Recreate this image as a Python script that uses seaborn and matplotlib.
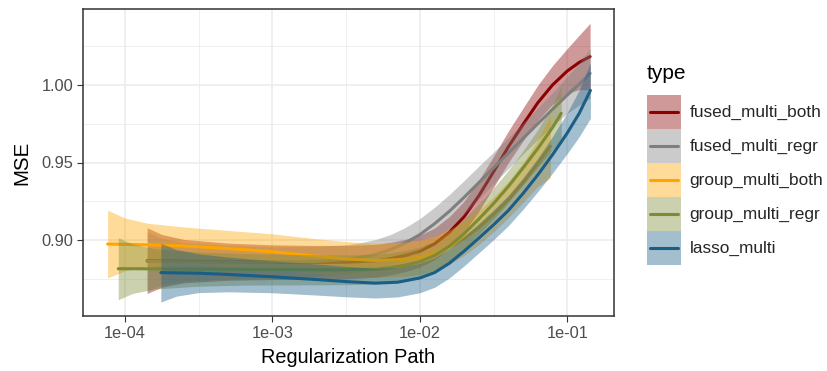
import numpy as np
import pandas as pd
import matplotlib
matplotlib.use("Agg")
import matplotlib.pyplot as plt
import seaborn as sns
from matplotlib.ticker import FixedLocator, NullFormatter
from matplotlib.legend_handler import HandlerBase
from matplotlib.patches import Rectangle
from matplotlib.lines import Line2D

# ---------------- data ----------------
types = ["fused_multi_both", "fused_multi_regr", "group_multi_both",
         "group_multi_regr", "lasso_multi"]

x_ticks = [1e-4, 1e-3, 1e-2, 1e-1]
x_tick_labels = ["1e-04", "1e-03", "1e-02", "1e-01"]
y_ticks = [0.90, 0.95, 1.00]
y_tick_labels = ["0.90", "0.95", "1.00"]

# log10 of the regularization parameter, smoothed MSE, and CI half-width
log_fmb = [-3.849, -3.75, -3.6, -3.3, -3.0, -2.7, -2.5, -2.3, -2.2, -2.1, -2.0, -1.9,
           -1.8, -1.7, -1.6, -1.5, -1.4, -1.3, -1.2, -1.1, -1.0, -0.92, -0.845]
mse_fmb = [0.8867, 0.8866, 0.8864, 0.8860, 0.8857, 0.8855, 0.8857, 0.8866, 0.8880, 0.8900,
           0.8928, 0.8975, 0.9050, 0.9150, 0.9285, 0.9440, 0.9600, 0.9745, 0.9885, 1.0000,
           1.0090, 1.0145, 1.0183]
se_fmb = [0.0212, 0.0170, 0.0140, 0.0120, 0.0112, 0.0110, 0.0108, 0.0106, 0.0105, 0.0104,
          0.0103, 0.0102, 0.0101, 0.0100, 0.0100, 0.0100, 0.0102, 0.0106, 0.0113, 0.0125,
          0.0145, 0.0175, 0.0215]

log_fmr = [-3.849, -3.75, -3.6, -3.3, -3.0, -2.7, -2.5, -2.4, -2.3, -2.2, -2.1, -2.0,
           -1.9, -1.8, -1.7, -1.6, -1.5, -1.4, -1.3, -1.2, -1.1, -1.0, -0.92, -0.845]
mse_fmr = [0.8862, 0.8861, 0.8859, 0.8857, 0.8856, 0.8862, 0.8875, 0.8888, 0.8908, 0.8938,
           0.8980, 0.9035, 0.9105, 0.9185, 0.9275, 0.9370, 0.9465, 0.9560, 0.9655, 0.9750,
           0.9843, 0.9935, 1.0005, 1.0075]
se_fmr = [0.0190, 0.0150, 0.0125, 0.0108, 0.0100, 0.0097, 0.0095, 0.0095, 0.0095, 0.0097,
          0.0100, 0.0103, 0.0106, 0.0108, 0.0108, 0.0106, 0.0102, 0.0100, 0.0100, 0.0102,
          0.0108, 0.0118, 0.0135, 0.0160]

log_gmb = [-4.117, -4.0, -3.85, -3.6, -3.3, -3.0, -2.7, -2.5, -2.3, -2.1, -2.0, -1.9,
           -1.8, -1.7, -1.6, -1.5, -1.4, -1.3, -1.2, -1.114]
mse_gmb = [0.8974, 0.8972, 0.8969, 0.8962, 0.8945, 0.8925, 0.8895, 0.8878, 0.8868, 0.8875,
           0.8890, 0.8915, 0.8955, 0.9010, 0.9080, 0.9165, 0.9260, 0.9370, 0.9495, 0.9605]
se_gmb = [0.0218, 0.0170, 0.0140, 0.0122, 0.0117, 0.0115, 0.0113, 0.0112, 0.0111, 0.0110,
          0.0110, 0.0110, 0.0110, 0.0110, 0.0110, 0.0112, 0.0117, 0.0128, 0.0150, 0.0205]

log_gmr = [-4.045, -3.95, -3.8, -3.5, -3.2, -3.0, -2.7, -2.5, -2.3, -2.2, -2.1, -2.0,
           -1.9, -1.8, -1.7, -1.6, -1.5, -1.4, -1.3, -1.2, -1.1, -1.041]
mse_gmr = [0.8815, 0.8815, 0.8814, 0.8812, 0.8811, 0.8810, 0.8808, 0.8808, 0.8812, 0.8822,
           0.8838, 0.8860, 0.8900, 0.8960, 0.9040, 0.9135, 0.9235, 0.9345, 0.9465, 0.9590,
           0.9725, 0.9817]
se_gmr = [0.0200, 0.0160, 0.0130, 0.0110, 0.0102, 0.0100, 0.0097, 0.0096, 0.0095, 0.0095,
          0.0095, 0.0095, 0.0095, 0.0096, 0.0097, 0.0098, 0.0100, 0.0104, 0.0110, 0.0122,
          0.0145, 0.0175]

log_lasso = [-3.756, -3.65, -3.5, -3.3, -3.0, -2.7, -2.5, -2.3, -2.15, -2.0, -1.9, -1.8,
             -1.7, -1.6, -1.5, -1.4, -1.3, -1.2, -1.1, -1.0, -0.92, -0.843]
mse_lasso = [0.8790, 0.8788, 0.8786, 0.8778, 0.8763, 0.8745, 0.8732, 0.8722, 0.8728, 0.8755,
             0.8790, 0.8850, 0.8928, 0.9012, 0.9098, 0.9190, 0.9300, 0.9420, 0.9550, 0.9690,
             0.9815, 0.9965]
se_lasso = [0.0190, 0.0150, 0.0125, 0.0112, 0.0103, 0.0100, 0.0098, 0.0096, 0.0095, 0.0095,
            0.0095, 0.0095, 0.0095, 0.0095, 0.0096, 0.0098, 0.0102, 0.0108, 0.0118, 0.0132,
            0.0150, 0.0180]

palette = {"fused_multi_both": "#8B0000", "fused_multi_regr": "#7F7F7F",
           "group_multi_both": "#FFA500", "group_multi_regr": "#7D8B35",
           "lasso_multi": "#1A5E85"}

series = {"fused_multi_both": (log_fmb, mse_fmb, se_fmb),
          "fused_multi_regr": (log_fmr, mse_fmr, se_fmr),
          "group_multi_both": (log_gmb, mse_gmb, se_gmb),
          "group_multi_regr": (log_gmr, mse_gmr, se_gmr),
          "lasso_multi": (log_lasso, mse_lasso, se_lasso)}

frames = []
for t in types:
    lg, m, s = series[t]
    lg = np.asarray(lg); m = np.asarray(m); s = np.asarray(s)
    frames.append(pd.DataFrame({"type": t, "path": 10.0 ** lg, "MSE": m,
                                "lo": m - s, "hi": m + s}))
df = pd.concat(frames, ignore_index=True)

# ---------------- figure ----------------
sns.set_theme(style="white")
plt.rcParams["font.family"] = ["Liberation Sans", "DejaVu Sans"]

W, H = 827, 371
fig = plt.figure(figsize=(W / 100, H / 100), dpi=100)
L, R, T, B = 83, 614, 9, 316
ax = fig.add_axes([L / W, 1 - B / H, (R - L) / W, (B - T) / H])
ax.set_facecolor("white")
ax.set_xscale("log")
ax.set_xlim(10 ** -4.284, 10 ** -0.683)
ax.set_ylim(0.851, 1.049)

# grid (theme_bw look)
ax.xaxis.set_major_locator(FixedLocator(x_ticks))
ax.xaxis.set_minor_locator(FixedLocator([10 ** -3.5, 10 ** -2.5, 10 ** -1.5]))
ax.xaxis.set_minor_formatter(NullFormatter())
ax.set_xticklabels(x_tick_labels)
ax.yaxis.set_major_locator(FixedLocator(y_ticks))
ax.yaxis.set_minor_locator(FixedLocator([0.875, 0.925, 0.975, 1.025]))
ax.set_yticklabels(y_tick_labels)
ax.grid(True, which="major", color="#EBEBEB", lw=1.1, zorder=0)
ax.grid(True, which="minor", color="#EBEBEB", lw=0.55, zorder=0)
ax.set_axisbelow(True)
ax.tick_params(which="major", length=4, width=0.8, color="#333333",
               labelcolor="#4D4D4D", labelsize=11.8, pad=3, direction="out",
               bottom=True, left=True)
ax.tick_params(which="minor", length=0, bottom=False, left=False)
for sp in ax.spines.values():
    sp.set_color("#333333")
    sp.set_linewidth(1.1)

# smooths: ribbon then line per group
for i, t in enumerate(types):
    sub = df[df["type"] == t]
    ax.fill_between(sub["path"], sub["lo"], sub["hi"], color=palette[t],
                    alpha=0.4, lw=0, zorder=2 + 2 * i)
    sns.lineplot(data=sub, x="path", y="MSE", color=palette[t], lw=2.2,
                 estimator=None, sort=False, legend=False, ax=ax)
    ax.lines[-1].set_zorder(3 + 2 * i)

ax.set_xlabel("Regularization Path", fontsize=14.3, color="black", labelpad=5)
ax.set_ylabel("MSE", fontsize=14.8, color="black", labelpad=7)


# legend with ribbon-filled keys
class Key:
    def __init__(self, color):
        self.color = color


class KeyHandler(HandlerBase):
    def create_artists(self, legend, orig_handle, xdescent, ydescent, width,
                       height, fontsize, trans):
        x0, y0 = -xdescent, -ydescent
        rect = Rectangle((x0, y0), width, height, facecolor=orig_handle.color,
                         alpha=0.4, lw=0, transform=trans)
        yc = y0 + height / 2
        line = Line2D([x0 + 0.1 * width, x0 + 0.9 * width], [yc, yc],
                      color=orig_handle.color, lw=2.2, transform=trans)
        return [rect, line]


fs = 12.4
fs_px = fs * 100 / 72
key_px = 34
hh = (key_px / fs_px - 0.245) / 0.65
handles = [Key(palette[t]) for t in types]
leg = fig.legend(handles, types, handler_map={Key: KeyHandler()},
                 loc="upper left", bbox_to_anchor=(647 / W, 1 - 95 / H),
                 frameon=False, fontsize=fs,
                 handlelength=key_px / fs_px, handleheight=hh,
                 labelspacing=0, handletextpad=0.5, borderpad=0,
                 borderaxespad=0)
fig.text(647 / W, 1 - 79 / H, "type", fontsize=15, color="black",
         ha="left", va="baseline")

fig.savefig("out.png", dpi=100)
